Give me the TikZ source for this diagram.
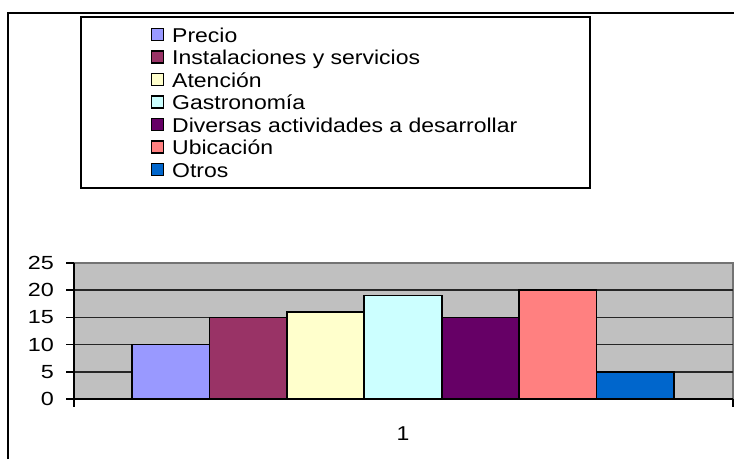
\documentclass[tikz,border=0pt]{standalone}
\usepackage{fontspec}
\setmainfont{Liberation Sans}[FakeStretch=1.15]
\newfontfamily\tickfont{Liberation Sans}[FakeStretch=1.23]
\definecolor{cPrecio}{HTML}{9999FF}
\definecolor{cInst}{HTML}{993366}
\definecolor{cAten}{HTML}{FFFFCC}
\definecolor{cGast}{HTML}{CCFFFF}
\definecolor{cDiv}{HTML}{660066}
\definecolor{cUbic}{HTML}{FF8080}
\definecolor{cOtros}{HTML}{0066CC}
\definecolor{plotgray}{HTML}{C0C0C0}
\begin{document}
\begin{tikzpicture}[x=1pt,y=-1pt,
  txt/.style={font=\fontsize{20}{22}\selectfont, inner sep=0pt},
  legsq/.style={draw=black, line width=1.5pt, minimum size=12pt, inner sep=0pt},
  legtxt/.style={txt, anchor=base west},
  bar/.style={draw=black, line width=1.7pt},
  grid/.style={draw=black!85, line width=1.7pt},
  ticklbl/.style={font=\tickfont\fontsize{19}{22}\selectfont, inner sep=0pt, anchor=east}
]
\useasboundingbox (0,0) rectangle (734,459);
\fill[white] (0,0) rectangle (734,459);
% outer frame
\draw[line width=1.8pt] (8,459) -- (8,13) -- (734,13);
% legend box
\draw[line width=1.8pt] (81,17) rectangle (590,188);
\foreach \c/\t [count=\i from 0] in {cPrecio/Precio, cInst/Instalaciones y servicios, cAten/Atención, cGast/Gastronomía, cDiv/Diversas actividades a desarrollar, cUbic/Ubicación, cOtros/Otros}{
  \pgfmathsetmacro{\yb}{42+22.5*\i}
  \node[legsq, fill=\c] (sq\i) at (157.5,\yb-7.5) {};
  \node[legtxt] (lg\i) at (172,\yb) {\t};
}
% plot area
\fill[plotgray] (74,263) rectangle (733,399);
\draw[draw=gray!90!black, line width=1.6pt] (74,263) -- (733,263) -- (733,399);
\foreach \v in {5,10,15,20}{
  \draw[grid] (74,399-\v*5.44) -- (733,399-\v*5.44);
}
% bars
\foreach \val/\c [count=\i from 0] in {10/cPrecio,15/cInst,16/cAten,19/cGast,15/cDiv,20/cUbic,5/cOtros}{
  \draw[bar, fill=\c] (132+77.43*\i,399) rectangle (132+77.43*\i+77.43,399-\val*5.44);
}
% axes
\draw[line width=1.7pt] (74,263) -- (74,407);
\draw[line width=1.7pt] (74,399) -- (733,399);
\draw[line width=1.5pt] (733,399) -- (733,407);
\foreach \v in {0,5,10,15,20,25}{
  \draw[line width=1.6pt] (66,399-\v*5.44) -- (74,399-\v*5.44);
  \node[ticklbl] (t\v) at (54,399-\v*5.44) {\v};
}
\node[txt] (cat1) at (403,434) {1};
\end{tikzpicture}
\end{document}
